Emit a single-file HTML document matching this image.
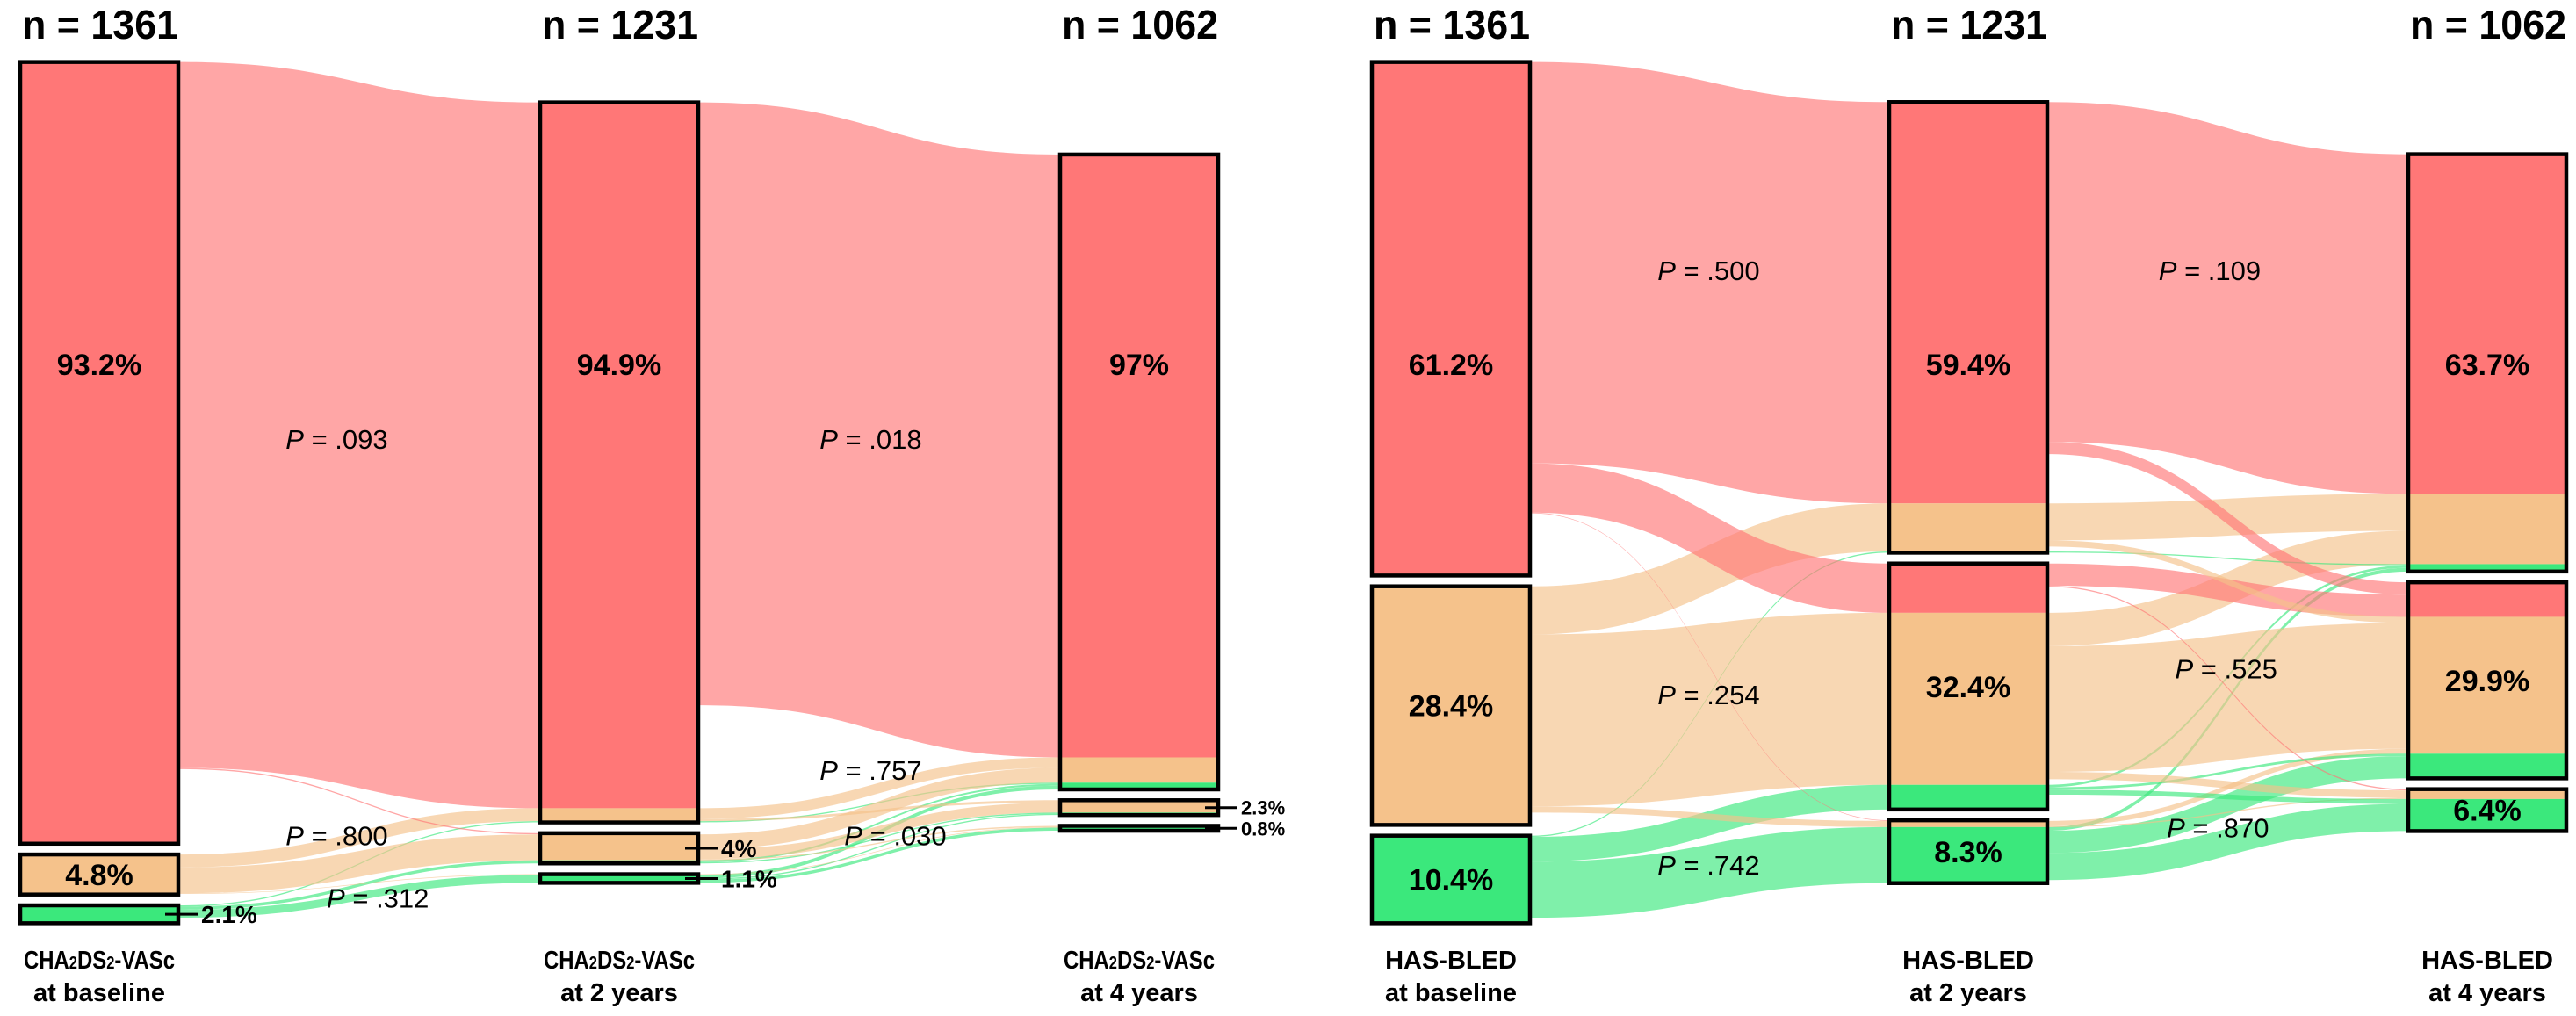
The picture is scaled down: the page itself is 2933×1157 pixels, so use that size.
<!DOCTYPE html>
<html><head><meta charset="utf-8">
<style>
html,body{margin:0;padding:0;background:#fff;}
svg{display:block;font-family:"Liberation Sans",Arial,sans-serif;}
</style></head>
<body>
<svg id="chart" width="2933" height="1157" viewBox="0 0 2933 1157" xmlns="http://www.w3.org/2000/svg">
<g id="flows"></g>
<g id="nodes"></g>
<g id="labels"></g>
</svg>
<script>
// ---- data (patients) ----
const colN = [1361, 1231, 1062];
const leftNodes = [[1268, 65, 29], [1168, 49, 14], [1030, 24, 8]];
const rightNodes = [[833, 387, 142], [731, 399, 102], [677, 318, 68]];
const leftPct = [["93.2%","4.8%","2.1%"],["94.9%","4%","1.1%"],["97%","2.3%","0.8%"]];
const rightPct = [["61.2%","28.4%","10.4%"],["59.4%","32.4%","8.3%"],["63.7%","29.9%","6.4%"]];
// flows: [sourceNode, targetNode, strandColor, value]  (0=high/red,1=mid/orange,2=low/green)
const leftFlows1 = [[0,0,0,1145],[1,0,1,21],[2,0,2,2],[0,1,0,2],[1,1,1,42],[2,1,2,5],[1,2,1,1],[2,2,2,13]];
const leftFlows2 = [[0,0,0,978],[0,0,1,17],[0,0,2,2],[1,0,1,24],[1,0,2,3],[2,0,2,6],
  [0,1,1,4],[1,1,1,16],[1,1,2,2],[2,1,2,2],[2,2,2,5],[1,2,1,2],[2,2,1,1]];
const rightFlows1 = [[0,0,0,651],[1,0,1,78],[2,0,2,2],[0,1,0,80],[1,1,1,279],[2,1,2,40],[0,2,0,1],[1,2,1,10],[2,2,2,91]];
const rightFlows2 = [[0,0,0,551],[0,0,1,60],[1,0,1,54],[1,0,2,4],[2,0,2,6],[0,0,2,2],
  [0,1,0,20],[1,1,0,36],[1,1,1,204],[0,1,1,10],[2,1,1,8],[2,1,2,36],[1,1,2,4],
  [1,2,0,2],[1,2,1,12],[2,2,1,2],[2,2,2,44],[1,2,2,8]];
const pLeft = [["P = .093",205,268],["P = .018",530,268],["P = .800",205,510],["P = .312",230,548],["P = .757",530,470],["P = .030",545,510]];
const pRight = [["P = .500",1040,165],["P = .109",1345,165],["P = .254",1040,424],["P = .525",1355,408],["P = .742",1040,528],["P = .870",1350,505]];
const leftTitle = [["CHA","2","DS","2","-VASc"],"at baseline","at 2 years","at 4 years"];
const rightTitle = ["HAS-BLED","at baseline","at 2 years","at 4 years"];

// ---- layout ----
const S = 0.702, GAP = 12.3, CY = 561, BW = 180;
const boxColors = ["#ff7777","#f5c28b","#3be87c"];
const NS = "http://www.w3.org/2000/svg";
const gF = document.getElementById('flows'), gN = document.getElementById('nodes'), gL = document.getElementById('labels');
function el(tag, attrs, parent){const e=document.createElementNS(NS,tag);for(const k in attrs)e.setAttribute(k,attrs[k]);parent.appendChild(e);return e;}
function yScale(v){return v*S;}

function layoutCol(vals){
  const tot = vals.reduce((a,b)=>a+b,0)*S + GAP*(vals.length-1);
  let y = CY - tot/2; const out=[];
  vals.forEach(v=>{out.push({y0:y,h:yScale(v)});y+=yScale(v)+GAP;});
  return out;
}

function drawChart(nodes, flowsArr, xs, pcts, prefix){
  const lay = nodes.map(layoutCol);
  const segs = nodes.map((col)=>col.map(()=>[0,0,0]));
  segs[0].forEach((s,i)=>{s[i]=nodes[0][i];});
  flowsArr.forEach((fl,k)=>{fl.forEach(f=>{segs[k+1][f[1]][f[2]]+=f[3];});});
  flowsArr.forEach((fl,k)=>{
    const srcCursor = segs[k].map((sg,i)=>{let y=lay[k][i].y0;return sg.map(v=>{const c=y;y+=yScale(v);return c;});});
    const tgtCursor = segs[k+1].map((sg,i)=>{let y=lay[k+1][i].y0;return sg.map(v=>{const c=y;y+=yScale(v);return c;});});
    const srcOrder = fl.map((f,i)=>i).sort((a,b)=>fl[a][0]-fl[b][0]||fl[a][2]-fl[b][2]||fl[a][1]-fl[b][1]);
    const sy={}, ty={};
    srcOrder.forEach(i=>{const f=fl[i];sy[i]=srcCursor[f[0]][f[2]];srcCursor[f[0]][f[2]]+=yScale(f[3]);});
    const tgtOrder = fl.map((f,i)=>i).sort((a,b)=>fl[a][1]-fl[b][1]||fl[a][2]-fl[b][2]||fl[a][0]-fl[b][0]);
    tgtOrder.forEach(i=>{const f=fl[i];ty[i]=tgtCursor[f[1]][f[2]];tgtCursor[f[1]][f[2]]+=yScale(f[3]);});
    const x0 = xs[k]+BW, x1 = xs[k+1], xm=(x0+x1)/2;
    fl.forEach((f,i)=>{
      const h=yScale(f[3]), a=sy[i], b=ty[i];
      const d=`M${x0},${a} C${xm},${a} ${xm},${b} ${x1},${b} L${x1},${b+h} C${xm},${b+h} ${xm},${a+h} ${x0},${a+h} Z`;
      const p=el('path',{d:d,fill:boxColors[f[2]],'fill-opacity':0.65},gF);
      
      
    });
  });
  lay.forEach((col,k)=>{
    col.forEach((n,i)=>{
      const g=el('g',{},gN);
      
      
      let y=n.y0;
      segs[k][i].forEach((v,c)=>{ if(v>0){const r=el('rect',{x:xs[k],y:y,width:BW,height:yScale(v),fill:boxColors[c]},g);
        
        } y+=yScale(v);});
      const b=el('rect',{x:xs[k],y:n.y0,width:BW,height:n.h,fill:'none',stroke:'#000','stroke-width':4.5},g);
      
      
      const txt=pcts[k][i];
      if(n.h>40){
        const ty = i===0 ? 415 : n.y0+n.h/2;
        const t=el('text',{x:xs[k]+BW/2,y:ty+12,'text-anchor':'middle','font-size':34,'font-weight':'bold'},gL);
        t.textContent=txt;
        
        
      } else {
        const cy=n.y0+n.h/2, small=k===2;
        const ln=el('line',{x1:xs[k]+BW-15,y1:cy,x2:xs[k]+BW+22,y2:cy,stroke:'#000','stroke-width':3},gL);
        
        
        const t=el('text',{x:xs[k]+BW+26,y:cy+(small?8:10),'font-size':small?22:28,'font-weight':'bold'},gL);
        t.textContent=txt;
        
        
      }
    });
    const nt=el('text',{x:xs[k]+2,y:44,'font-size':46,'font-weight':'bold',textLength:178,lengthAdjust:'spacingAndGlyphs'},gL);
    nt.textContent='n = '+colN[k];
    
    
  });
}

const xsL=[23,615,1207], xsR=[1562,2151,2742];
drawChart(leftNodes,[leftFlows1,leftFlows2],xsL,leftPct,'cha2ds2');
drawChart(rightNodes,[rightFlows1,rightFlows2],xsR,rightPct,'hasbled');

function pLabel(arr){arr.forEach(p=>{
  const t=el('text',{x:p[1]*1.8706,y:p[2]*1.866+11,'text-anchor':'middle','font-size':31},gL);
  
  
  const ts=el('tspan',{'font-style':'italic'},t); ts.textContent='P';
  const ts2=el('tspan',{},t); ts2.textContent=p[0].slice(1);
});}
pLabel(pLeft); pLabel(pRight);

[0,1,2].forEach(k=>{
  const cx=xsL[k]+BW/2;
  const t=el('text',{x:cx,y:1103,'text-anchor':'middle','font-size':29,'font-weight':'bold',textLength:172,lengthAdjust:'spacingAndGlyphs'},gL);
  
  
  leftTitle[0].forEach((s,j)=>{const ts=el('tspan',{},t); if(j===1||j===3){ts.setAttribute('font-size',20);} ts.textContent=s;});
  const t2=el('text',{x:cx,y:1140,'text-anchor':'middle','font-size':29,'font-weight':'bold'},gL);
  t2.textContent=leftTitle[k+1];
  
  
  const cr=xsR[k]+BW/2;
  const r1=el('text',{x:cr,y:1103,'text-anchor':'middle','font-size':29,'font-weight':'bold'},gL);
  r1.textContent=rightTitle[0];
  
  
  const r2=el('text',{x:cr,y:1140,'text-anchor':'middle','font-size':29,'font-weight':'bold'},gL);
  r2.textContent=rightTitle[k+1];
  
  
});
</script>
</body></html>
